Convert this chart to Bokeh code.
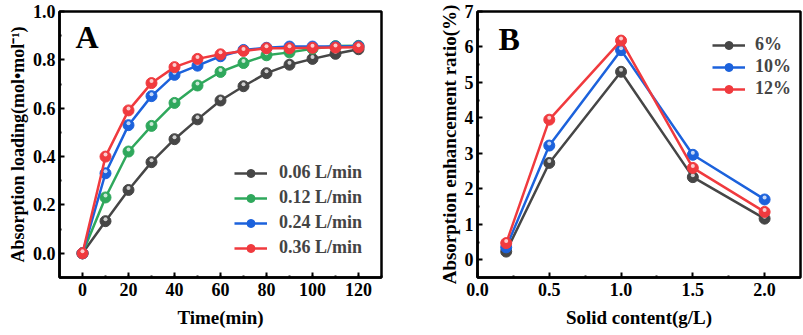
from bokeh.plotting import figure
from bokeh.layouts import row
from bokeh.models import FixedTicker, Label, Legend, LegendItem, Range1d
from bokeh.embed import file_html
from bokeh.resources import INLINE

# ---------------- data ----------------
time_min = [0, 10, 20, 30, 40, 50, 60, 70, 80, 90, 100, 110, 120]
flow_labels = ["0.06 L/min", "0.12 L/min", "0.24 L/min", "0.36 L/min"]
load_006 = [0, 0.133, 0.262, 0.377, 0.472, 0.554, 0.632, 0.691, 0.745, 0.780, 0.804, 0.825, 0.844]
load_012 = [0, 0.231, 0.421, 0.527, 0.622, 0.694, 0.750, 0.787, 0.819, 0.831, 0.846, 0.857, 0.858]
load_024 = [0, 0.331, 0.530, 0.650, 0.738, 0.776, 0.815, 0.841, 0.850, 0.855, 0.855, 0.855, 0.856]
load_036 = [0, 0.400, 0.591, 0.704, 0.770, 0.804, 0.823, 0.837, 0.848, 0.848, 0.850, 0.851, 0.852]

solid = [0.2, 0.5, 1.0, 1.5, 2.0]
conc_labels = ["6%", "10%", "12%"]
ratio_6 = [0.23, 2.73, 5.30, 2.33, 1.16]
ratio_10 = [0.35, 3.22, 5.91, 2.96, 1.70]
ratio_12 = [0.47, 3.95, 6.18, 2.59, 1.35]

GRAY = "#464646"
GREEN = "#2fa85c"
BLUE = "#1c62dc"
RED = "#f03a3e"

FONT = "Liberation Serif"
TICK_FS = "18px"
LAB_FS = "19px"

W_A, W_B, H = 400, 403, 335
BT, BB = 11, 58
FRAME_H = H - BT - BB


def style(p, xticks, xminor, yticks, yminor, xfmt, yfmt):
    p.xgrid.visible = False
    p.ygrid.visible = False
    p.outline_line_color = "black"
    p.outline_line_width = 2.5
    p.xaxis.ticker = FixedTicker(ticks=xticks, minor_ticks=xminor)
    p.yaxis.ticker = FixedTicker(ticks=yticks, minor_ticks=yminor)
    p.xaxis.major_label_overrides = {t: xfmt(t) for t in xticks}
    p.yaxis.major_label_overrides = {t: yfmt(t) for t in yticks}
    for ax in (p.xaxis[0], p.yaxis[0]):
        ax.axis_line_width = 2.5
        ax.axis_line_color = "black"
        ax.major_tick_in = 5
        ax.major_tick_out = 0
        ax.minor_tick_in = 2
        ax.minor_tick_out = 0
        ax.major_tick_line_width = 2
        ax.minor_tick_line_width = 2
        ax.major_label_text_font = FONT
        ax.major_label_text_font_style = "bold"
        ax.major_label_text_font_size = TICK_FS
        ax.major_label_text_color = "black"
        ax.axis_label_text_font = FONT
        ax.axis_label_text_font_style = "bold"
        ax.axis_label_text_font_size = LAB_FS
        ax.axis_label_text_color = "black"
    p.xaxis.major_label_standoff = 5
    p.xaxis.axis_label_standoff = 8
    p.yaxis.major_label_standoff = 4
    p.yaxis.axis_label_standoff = 2


def series(p, x, y, color, dy):
    ln = p.line(x, y, line_color=color, line_width=2.5)
    sc = p.scatter(x, y, size=11, fill_color=color, line_color=color, line_width=1)
    p.scatter(x, [v + dy for v in y], size=4, fill_color="white", fill_alpha=0.75, line_color=None)
    return [ln, sc]


# ---------------- panel A ----------------
ya = Range1d(-0.1, 1.0)
pa = figure(width=W_A, height=H, x_range=Range1d(-10, 130), y_range=ya,
            output_backend="svg", toolbar_location=None,
            min_border_left=59, min_border_right=19, min_border_top=BT, min_border_bottom=BB)
style(pa, list(range(0, 121, 20)), list(range(10, 131, 10)),
      [0.0, 0.2, 0.4, 0.6, 0.8, 1.0], [-0.1, 0.1, 0.3, 0.5, 0.7, 0.9],
      lambda t: f"{t:d}", lambda t: f"{t:.1f}")
pa.xaxis.axis_label = "Time(min)"
pa.yaxis.axis_label = "Absorption loading(mol\u2022mol\u207B\u00B9)"
pa.yaxis.axis_label_text_font_size = "18px"
dya = 2.0 * (ya.end - ya.start) / FRAME_H
items_a = []
for lab, ys, c in zip(flow_labels, [load_006, load_012, load_024, load_036], [GRAY, GREEN, BLUE, RED]):
    items_a.append(LegendItem(label=lab, renderers=series(pa, time_min, ys, c, dya)))
lega = Legend(items=items_a, location="bottom_right", border_line_color=None, background_fill_alpha=0,
              label_text_font=FONT, label_text_font_style="bold", label_text_font_size="18px",
              glyph_width=33, glyph_height=20, spacing=4, padding=0, margin=19, label_standoff=12)
pa.add_layout(lega, "center")
pa.add_layout(Label(x=-3, y=0.822, text="A", text_font=FONT, text_font_style="bold",
                    text_font_size="32px", text_color="black"))

# ---------------- panel B ----------------
yb = Range1d(-0.5, 7.0)
pb = figure(width=W_B, height=H, x_range=Range1d(0.0, 2.25), y_range=yb,
            output_backend="svg", toolbar_location=None,
            min_border_left=77, min_border_right=3, min_border_top=BT, min_border_bottom=BB)
style(pb, [0.0, 0.5, 1.0, 1.5, 2.0], [0.25, 0.75, 1.25, 1.75],
      list(range(0, 8)), [-0.5, 0.5, 1.5, 2.5, 3.5, 4.5, 5.5, 6.5],
      lambda t: f"{t:.1f}", lambda t: f"{t:d}")
pb.xaxis.axis_label = "Solid content(g/L)"
pb.yaxis.axis_label = "Absorption enhancement ratio(%)"
dyb = 2.0 * (yb.end - yb.start) / FRAME_H
items_b = []
for lab, ys, c in zip(conc_labels, [ratio_6, ratio_10, ratio_12], [GRAY, BLUE, RED]):
    items_b.append(LegendItem(label=lab, renderers=series(pb, solid, ys, c, dyb)))
legb = Legend(items=items_b, location=(235, 178), border_line_color=None, background_fill_alpha=0,
              label_text_font=FONT, label_text_font_style="bold", label_text_font_size="18px",
              glyph_width=33, glyph_height=20, spacing=1, padding=0, margin=0, label_standoff=10)
pb.add_layout(legb, "center")
pb.add_layout(Label(x=0.146, y=5.73, text="B", text_font=FONT, text_font_style="bold",
                    text_font_size="32px", text_color="black"))

layout = row(pa, pb, spacing=0)
open("out.html", "w").write(file_html(layout, INLINE))
